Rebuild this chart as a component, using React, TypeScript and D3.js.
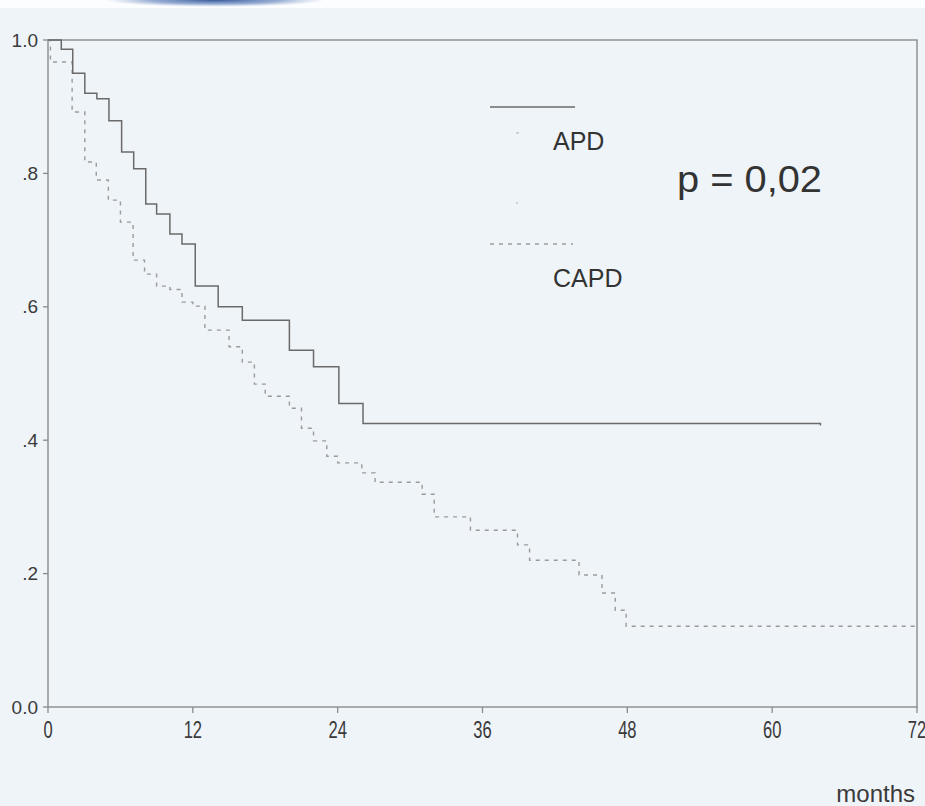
import * as d3 from 'd3'

// Kaplan-Meier estimates (months, survival after the step)
const apdTimes = [0, 1.1, 2.05, 3.05, 4.05, 5.05, 6.1, 7.1, 8.1, 9.0, 10.1, 11.1, 12.2, 14.1, 16.1, 20.0, 22.0, 24.1, 26.1, 64.0]
const apdSurvival = [1.0, 0.986, 0.95, 0.92, 0.912, 0.879, 0.832, 0.807, 0.754, 0.739, 0.709, 0.694, 0.631, 0.6, 0.58, 0.535, 0.51, 0.455, 0.425, 0.422]

const capdTimes = [0, 0.2, 2.0, 3.05, 4.0, 5.0, 6.0, 7.05, 8.0, 9.0, 10.1, 11.1, 12.0, 13.0, 15.0, 16.1, 17.1, 18.0, 20.0, 21.0, 22.0, 23.1, 24.0, 26.0, 27.1, 31.0, 32.0, 35.0, 38.9, 39.9, 44.0, 45.9, 47.0, 47.9, 72.0]
const capdSurvival = [1.0, 0.967, 0.892, 0.817, 0.79, 0.76, 0.727, 0.67, 0.649, 0.631, 0.626, 0.607, 0.601, 0.565, 0.54, 0.517, 0.484, 0.466, 0.448, 0.418, 0.399, 0.376, 0.366, 0.351, 0.337, 0.319, 0.285, 0.265, 0.243, 0.22, 0.198, 0.171, 0.145, 0.121, 0.12]

const monthTicks = [0, 12, 24, 36, 48, 60, 72]
const survTicks = [0, 0.2, 0.4, 0.6, 0.8, 1.0]
const survLabels = ['0.0', '.2', '.4', '.6', '.8', '1.0']

const groups = ['APD', 'CAPD']
const pLabel = 'p = 0,02'
const xTitle = 'months'

const W = 925
const H = 806
const left = 48
const right = 917
const top = 40
const bottom = 707

export default function App() {
  const x = d3.scaleLinear().domain([0, 72]).range([left, right])
  const y = d3.scaleLinear().domain([0, 1]).range([bottom, top])

  const line = d3.line<[number, number]>()
    .x(d => x(d[0]))
    .y(d => y(d[1]))
    .curve(d3.curveStepAfter)

  const apdPath = line(apdTimes.map((t, i) => [t, apdSurvival[i]]) as [number, number][]) || ''
  const capdPath = line(capdTimes.map((t, i) => [t, capdSurvival[i]]) as [number, number][]) || ''

  const font = 'Liberation Sans, Arial, Helvetica, sans-serif'
  const axisColor = '#8a8a8a'

  return (
    <svg width={W} height={H} style={{ position: 'absolute', left: 0, top: 0 }} fontFamily={font}>
      <defs>
        <radialGradient id="topBand" cx="0.5" cy="0.5" r="0.5">
          <stop offset="0" stopColor="#34589a" stopOpacity="1" />
          <stop offset="0.6" stopColor="#5a7db8" stopOpacity="0.6" />
          <stop offset="1" stopColor="#8aa6d0" stopOpacity="0" />
        </radialGradient>
      </defs>
      <rect x={0} y={0} width={W} height={H} fill="#eff4f9" />
      <rect x={0} y={0} width={W} height={8} fill="#fcfdfe" />
      <ellipse cx={215} cy={0} rx={110} ry={7} fill="url(#topBand)" />

      {/* frame */}
      <rect x={left} y={top} width={right - left} height={bottom - top} fill="none" stroke={axisColor} strokeWidth={1.4} />

      {/* y axis */}
      {survTicks.map((v, i) => (
        <g key={'y' + i}>
          <line x1={left - 5} x2={left} y1={y(v)} y2={y(v)} stroke={axisColor} strokeWidth={1.3} />
          <text x={38} y={y(v)} dy="0.35em" textAnchor="end" fontSize={19} fill="#3a3a3a">{survLabels[i]}</text>
        </g>
      ))}

      {/* x axis */}
      {monthTicks.map((m, i) => (
        <g key={'x' + i}>
          <line x1={x(m)} x2={x(m)} y1={bottom} y2={bottom + 6} stroke={axisColor} strokeWidth={1.3} />
          <text transform={`translate(${x(m)},${738}) scale(0.72,1)`} textAnchor="middle" fontSize={23} fill="#3a3a3a">{m}</text>
        </g>
      ))}
      <text x={915} y={802} textAnchor="end" fontSize={24} fill="#3a3a3a">{xTitle}</text>

      {/* survival curves */}
      <path d={capdPath} fill="none" stroke="#9a9a9a" strokeWidth={1.4} strokeDasharray="4,5" />
      <path d={apdPath} fill="none" stroke="#6a6a6a" strokeWidth={1.5} />

      {/* legend */}
      <line x1={490} x2={575} y1={107} y2={107} stroke="#6a6a6a" strokeWidth={1.5} />
      <text x={553} y={150} fontSize={25} fill="#333">{groups[0]}</text>
      <line x1={490} x2={573} y1={244} y2={244} stroke="#9a9a9a" strokeWidth={1.4} strokeDasharray="4,5" />
      <text x={553} y={287} fontSize={25} fill="#333">{groups[1]}</text>
      <line x1={516} x2={519} y1={133} y2={133} stroke="#aaa" strokeWidth={1} />
      <line x1={516} x2={518} y1={203} y2={203} stroke="#aaa" strokeWidth={1} />

      <text x={677} y={192} fontSize={37} fill="#333" textLength={145} lengthAdjust="spacingAndGlyphs">{pLabel}</text>
    </svg>
  )
}
